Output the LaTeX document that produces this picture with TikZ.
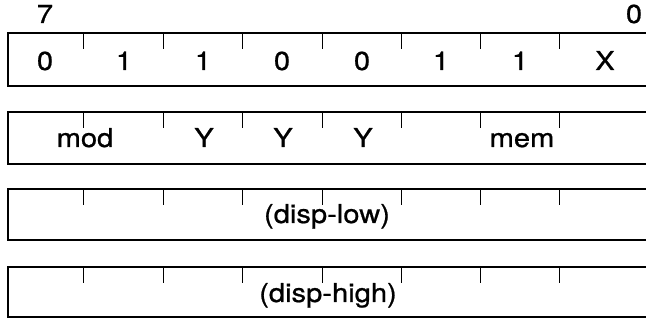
\documentclass[tikz,border=0pt]{standalone}
\usepackage{fontspec}
\setmainfont[FakeStretch=1.12, FakeBold=0.8]{TeX Gyre Heros}
\tikzset{
  field/.style={draw=black, line width=1.5pt},
  tick/.style={draw=black, line width=0.9pt},
  lbl/.style={anchor=base, inner sep=0pt, font=\fontsize{26}{30}\selectfont}
}
\begin{document}
\begin{tikzpicture}[x=1pt,y=1pt]
\useasboundingbox (0,0) rectangle (646,320);
% field rows: top, bottom
\foreach \t/\b in {287/234, 208/156, 131/80, 53/3}{
  \draw[field] (646,\t) -- (8,\t) -- (8,\b) -- (646,\b);
  \foreach \x in {83,163,242,322,401,480,559}{
    \draw[tick] (\x,\t) -- (\x,\t-16);
  }
}
% bit numbers
\node[lbl] (b7) at (45,297) {7};
\node[lbl] (b0) at (634,297) {0};
% row 1
\node[lbl] (r1a) at (45,250) {0};
\node[lbl] (r1b) at (124,250) {1};
\node[lbl] (r1c) at (203,250) {1};
\node[lbl] (r1d) at (282,250) {0};
\node[lbl] (r1e) at (362,250) {0};
\node[lbl] (r1f) at (441,250) {1};
\node[lbl] (r1g) at (520,250) {1};
\node[lbl] (r1h) at (605,250) {X};
% row 2
\node[lbl] (mod) at (85,173) {mod};
\node[lbl] (y1) at (204,173) {Y};
\node[lbl] (y2) at (283,173) {Y};
\node[lbl] (y3) at (363,173) {Y};
\node[lbl] (mem) at (522,173) {mem};
% rows 3 and 4
\node[lbl] (dlow) at (327,97) {(disp-low)};
\node[lbl] (dhigh) at (328,18) {(disp-high)};
\end{tikzpicture}
\end{document}
